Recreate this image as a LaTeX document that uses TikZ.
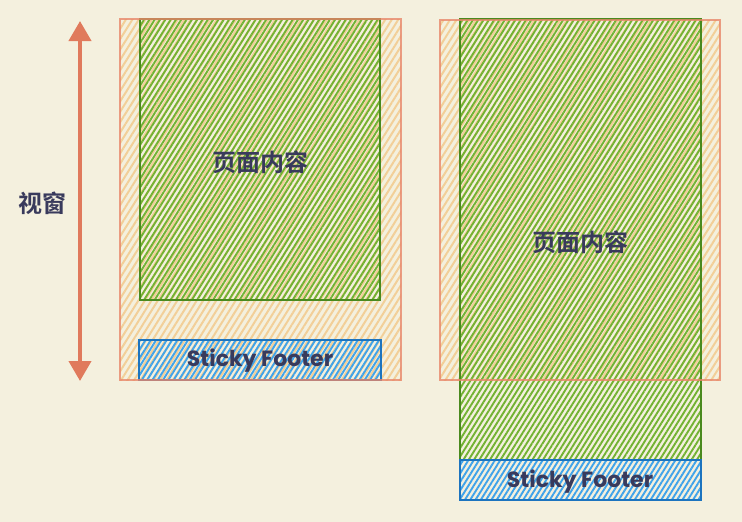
\documentclass[tikz,border=0pt]{standalone}
\usepackage{fontspec}
\setmainfont{Poppins}
\newfontfamily\cjk{Noto Sans CJK SC}[BoldFont={Noto Sans CJK SC Bold}]
\usetikzlibrary{patterns.meta,arrows.meta}
\definecolor{bg}{HTML}{F4F0DE}
\definecolor{orline}{HTML}{E8876A}
\definecolor{orhatch}{HTML}{F2CF98}
\definecolor{grline}{HTML}{4A8A1E}
\definecolor{grhatch}{HTML}{72B232}
\definecolor{blline}{HTML}{1C74BF}
\definecolor{blhatch}{HTML}{3FA3EA}
\definecolor{txt}{HTML}{393A5C}
\definecolor{arr}{HTML}{E07A5C}
\tikzset{
  viewport/.style={pattern={Lines[angle=58,distance=5.5pt,line width=2pt]}, pattern color=orhatch},
  viewline/.style={draw=orline, line width=1.8pt, draw opacity=0.8},
  content/.style={pattern={Lines[angle=58,distance=4.5pt,line width=1.9pt]}, pattern color=grhatch, draw=grline, line width=1.6pt},
  footer/.style={pattern={Lines[angle=58,distance=4.5pt,line width=1.9pt]}, pattern color=blhatch, draw=blline, line width=1.6pt},
  cjklabel/.style={font=\cjk\bfseries\fontsize{24}{27}\selectfont, text=txt},
  enlabel/.style={font=\bfseries\fontsize{22}{25}\selectfont, text=txt},
}
\begin{document}
\begin{tikzpicture}[x=1pt,y=-1pt]
\fill[bg] (0,0) rectangle (742,522);
\useasboundingbox (0,0) rectangle (742,522);
% arrow
\coordinate (atop) at (80,21);
\coordinate (abot) at (80,381);
\draw[arr, line width=4pt, {Triangle[length=20pt,width=22pt]}-{Triangle[length=20pt,width=22pt]}] (atop) -- (abot);
\node[cjklabel] (vlabel) at (42,203) {视窗};
% left panel
\path[viewport] (120,19) rectangle (401,380);
\path[content] (140,19) rectangle (380,300);
\path[footer] (139,340) rectangle (381,380);
\path[viewline] (120,19) rectangle (401,380);
\node[cjklabel] (lc) at (260,162) {页面内容};
\node[enlabel] (lf) at (260,361) {Sticky Footer};
% right panel
\path[viewport] (440,20) rectangle (720,380);
\path[content] (460,19) rectangle (701,460);
\path[footer] (460,460) rectangle (701,500);
\path[viewline] (440,20) rectangle (720,380);
\node[cjklabel] (rc) at (580,242) {页面内容};
\node[enlabel] (rf) at (580,482) {Sticky Footer};
\end{tikzpicture}
\end{document}
